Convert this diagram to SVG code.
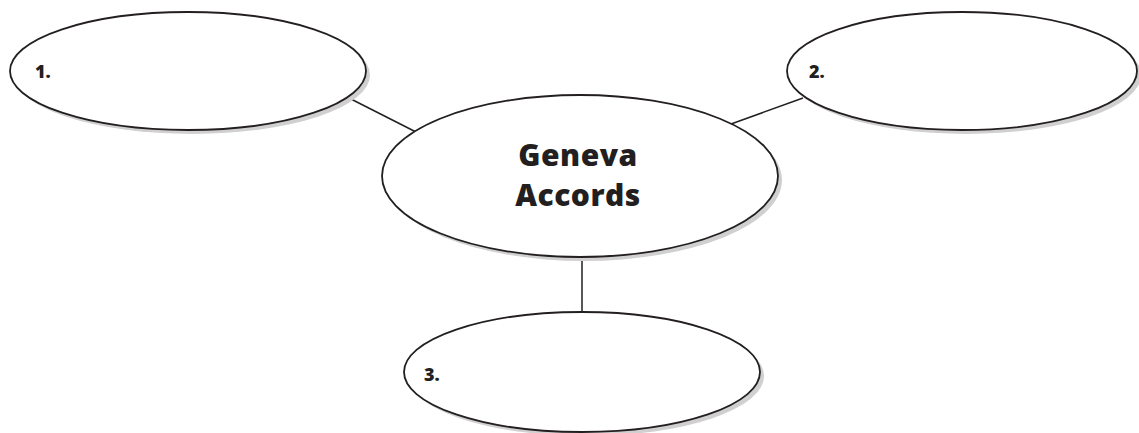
<svg xmlns="http://www.w3.org/2000/svg" width="1139" height="433" viewBox="0 0 1139 433">
<style>
.shadow{fill:#d0d0d0;stroke:none}
.node{fill:#fff;stroke:#231f20;stroke-width:1.8}
.conn{stroke:#231f20;stroke-width:1.5;fill:none}
.lbl{font-family:"Open Sans","Liberation Sans",sans-serif;font-weight:800;fill:#231f20}
.num{font-size:18px}
.title{font-size:30px;text-anchor:middle;letter-spacing:0.5px}
</style>
<rect width="1139" height="433" fill="#fff"/>
<g id="connectors">
<line class="conn" x1="347" y1="97" x2="416" y2="132"/>
<line class="conn" x1="731" y1="124" x2="803" y2="98"/>
<line class="conn" x1="582" y1="256" x2="582" y2="314"/>
</g>
<g id="node1">
<ellipse class="shadow" cx="192" cy="75" rx="178" ry="59"/>
<ellipse class="node" cx="188" cy="71" rx="178" ry="59"/>
<text class="lbl num" x="35" y="78">1.</text>
</g>
<g id="node2">
<ellipse class="shadow" cx="966" cy="75" rx="175" ry="59"/>
<ellipse class="node" cx="962" cy="71" rx="175" ry="59"/>
<text class="lbl num" x="809" y="78">2.</text>
</g>
<g id="center">
<ellipse class="shadow" cx="584" cy="180" rx="198" ry="81"/>
<ellipse class="node" cx="580" cy="176" rx="198" ry="81"/>
<text class="lbl title" x="578" y="166">Geneva</text>
<text class="lbl title" x="578" y="206">Accords</text>
</g>
<g id="node3">
<ellipse class="shadow" cx="586" cy="376" rx="178" ry="60"/>
<ellipse class="node" cx="582" cy="372" rx="178" ry="60"/>
<text class="lbl num" x="424" y="381">3.</text>
</g>
</svg>
